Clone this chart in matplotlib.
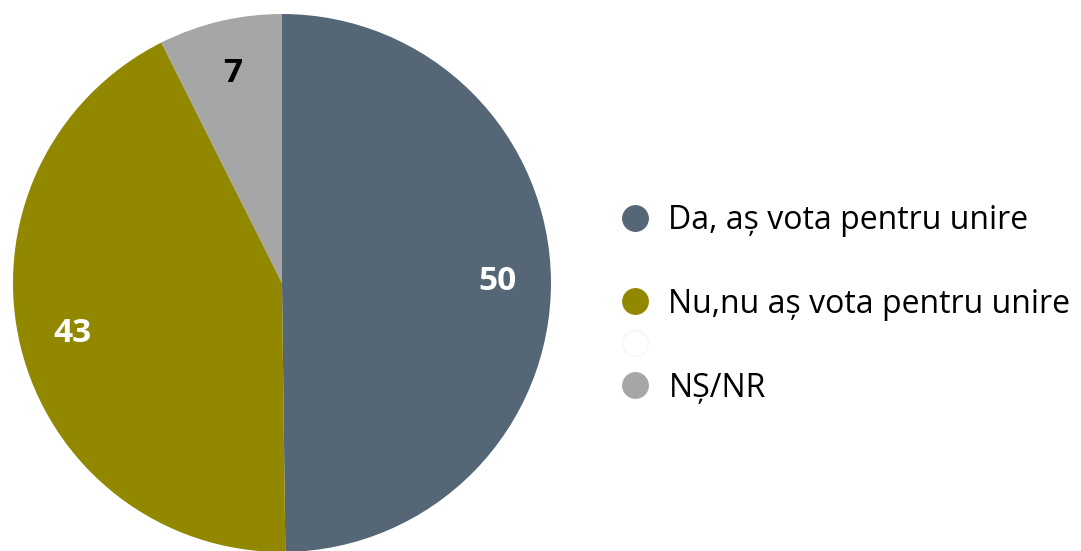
import matplotlib
matplotlib.use("Agg")
import matplotlib.pyplot as plt
from matplotlib.lines import Line2D

plt.rcParams['font.family'] = ['Open Sans', 'DejaVu Sans']

# data
categories = ["Da, aș vota pentru unire", "Nu,nu aș vota pentru unire", "NȘ/NR"]
values = [49.8, 42.8, 7.4]
colors = ["#556677", "#928800", "#A6A6A6"]
label_colors = ["white", "white", "black"]

fig = plt.figure(figsize=(10.81, 5.51), dpi=100)
ax = fig.add_axes([0.012, -0.0018, 0.4977, 0.9764])

wedges, texts, autotexts = ax.pie(
    values, colors=colors, startangle=90, counterclock=False,
    autopct='%.0f', pctdistance=0.8,
    wedgeprops=dict(linewidth=0),
    textprops=dict(fontsize=24, fontweight='bold'))
for t, c in zip(autotexts, label_colors):
    t.set_color(c)
ax.set_xlim(-1, 1)
ax.set_ylim(-1, 1)
ax.set_aspect('equal')

# legend with the blank spacer rows of the original
def handle(c, ec=None):
    return Line2D([], [], marker='o', linestyle='none', markersize=18.5,
                  markerfacecolor=c, markeredgecolor=ec or c, markeredgewidth=0.8)

handles = [handle(colors[0]), handle('none', 'none'), handle(colors[1]),
           handle('#FFFFFF', '#F3F3F3'), handle(colors[2])]
labels = [categories[0], " ", categories[1], " ", categories[2]]
fig.legend(handles, labels, loc='center left', bbox_to_anchor=(0.561, 0.448),
           frameon=False, fontsize=23, handletextpad=0.54, labelspacing=0.28,
           handlelength=1.0, borderaxespad=0)

fig.savefig("out.png", dpi=100)
